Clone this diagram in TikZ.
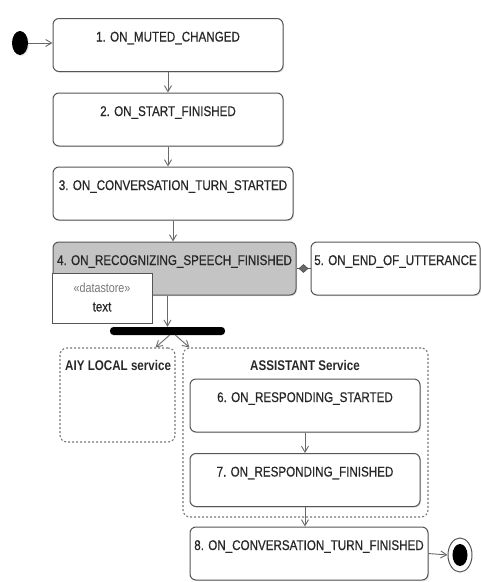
\documentclass[tikz,border=0pt]{standalone}
\usepackage{fontspec}
\setmainfont{Liberation Sans}[FakeStretch=0.83]
\newfontfamily\statefont{Liberation Sans}[FakeStretch=0.83,FakeBold=0.6]
\usetikzlibrary{arrows.meta,shadows,shapes.geometric}
\definecolor{linegray}{RGB}{85,85,85}
\definecolor{arrowgray}{RGB}{105,105,105}
\definecolor{fillgray}{RGB}{196,196,196}
\definecolor{dashgray}{RGB}{120,120,120}
\definecolor{textgray}{RGB}{40,40,40}
\tikzset{
  statebox/.style={draw=linegray, line width=1pt, rounded corners=6pt, fill=white,
    font=\statefont\fontsize{14}{16}\selectfont, text=textgray, inner xsep=2pt, inner ysep=4pt,
    text height=19pt, text depth=26pt,
    drop shadow={shadow xshift=1pt, shadow yshift=-1.2pt, opacity=0.22}},
  region/.style={draw=dashgray, line width=1.1pt, dash pattern=on 2pt off 2pt,
    rounded corners=7pt, inner sep=0pt},
  regiontitle/.style={font=\bfseries\fontsize{14}{16}\selectfont, text=textgray, inner sep=0pt},
  flow/.style={draw=arrowgray, line width=0.9pt, -{Straight Barb[length=6pt,width=7pt]}},
}
\begin{document}
\begin{tikzpicture}[x=1pt,y=-1pt]
\path[use as bounding box, fill=white] (0,0) rectangle (481,582);

% regions
\node[region, minimum width=115pt, minimum height=94pt] (aiy) at (117.5,395) {};
\node[region, minimum width=245pt, minimum height=169pt] (asst) at (305.5,432.5) {};
\node[regiontitle, anchor=west] (aiyt) at (65,365) {AIY LOCAL service};
\node[regiontitle] (asstt) at (305,365) {ASSISTANT Service};

% states
\node[statebox, minimum width=230pt] (b1) at (168,45) {1. ON\_MUTED\_CHANGED};
\node[statebox, minimum width=230pt] (b2) at (168,119.5) {2. ON\_START\_FINISHED};
\node[statebox, minimum width=240pt] (b3) at (173,193.5) {3. ON\_CONVERSATION\_TURN\_STARTED};
\node[statebox, minimum width=243pt, fill=fillgray] (b4) at (174.5,268.5) {4. ON\_RECOGNIZING\_SPEECH\_FINISHED};
\node[statebox, minimum width=169pt] (b5) at (395.5,268.5) {5. ON\_END\_OF\_UTTERANCE};
\node[statebox, minimum width=230pt] (b6) at (305,405.5) {6. ON\_RESPONDING\_STARTED};
\node[statebox, minimum width=230pt] (b7) at (305,480) {7. ON\_RESPONDING\_FINISHED};
\node[statebox, minimum width=238pt] (b8) at (309,553.5) {8. ON\_CONVERSATION\_TURN\_FINISHED};

% datastore
\node[draw=linegray, line width=1pt, fill=white, minimum width=100pt, minimum height=50pt,
  inner sep=0pt, drop shadow={shadow xshift=1pt, shadow yshift=-1.2pt, opacity=0.22}] (ds) at (102,298) {};
\node[text=dashgray, font=\fontsize{13}{15}\selectfont, inner sep=0pt] (dst) at (102,288) {«datastore»};
\node[font=\statefont\fontsize{14}{16}\selectfont, text=textgray, inner sep=0pt] (dsv) at (102,307) {text};

% fork bar
\node[fill=black, rounded corners=3.5pt, minimum width=115pt, minimum height=8pt, inner sep=0pt] (bar) at (167.5,331) {};

% start / end
\node[ellipse, fill=black, minimum width=16pt, minimum height=24pt, inner sep=0pt,
  drop shadow={shadow xshift=1pt, shadow yshift=-1pt, opacity=0.2}] (start) at (20,43) {};
\node[ellipse, draw=linegray, line width=1pt, fill=white, minimum width=24pt, minimum height=34pt, inner sep=0pt] (endc) at (460,555) {};
\node[ellipse, fill=black, minimum width=15pt, minimum height=22pt, inner sep=0pt] (endi) at (460,555) {};

% connectors
\draw[flow] (start) -- (start -| b1.west);
\draw[flow] (b1.south) -- (b1.south |- b2.north);
\draw[flow] (b2.south) -- (b2.south |- b3.north);
\draw[flow] (b3.south) -- (b3.south |- b4.north);
\draw[draw=linegray, line width=1pt] (b4.east) -- node[diamond, draw=linegray, fill=arrowgray, line width=0.8pt,
  minimum width=9pt, minimum height=8pt, inner sep=0pt] (dm) {} (b5.west);
\draw[flow] (bar.north |- b4.south) -- (bar.north);
\draw[flow] ([xshift=2pt]bar.south) -- ([xshift=-20pt]aiy.north east);
\draw[flow] ([xshift=8pt]bar.south) -- ([xshift=7pt]asst.north west);
\draw[flow] (b6.south) -- (b6.south |- b7.north);
\draw[flow] (b7.south) -- (b7.south |- b8.north);
\draw[flow] (b8.east) -- (endc.west);
\end{tikzpicture}
\end{document}
